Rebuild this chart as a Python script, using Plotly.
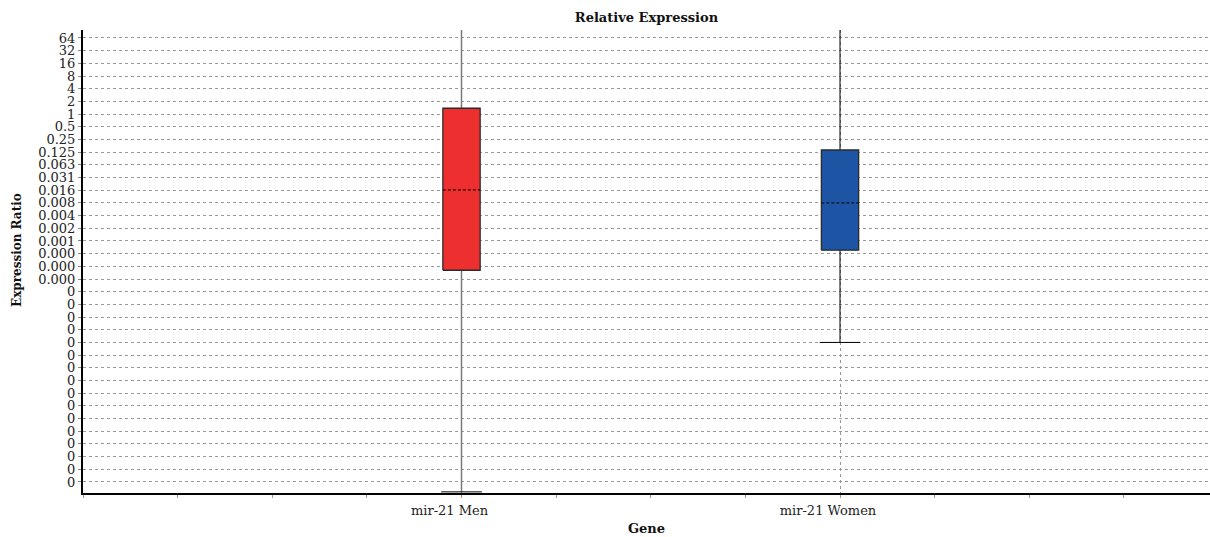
import plotly.graph_objects as go

# ---- data ----
genes = ["mir-21 Men", "mir-21 Women"]
gene_pos = [4, 8]
q1 = [2 ** -12.31, 2 ** -10.73]
median = [2 ** -5.98, 2 ** -7.0]
q3 = [2 ** 0.46, 2 ** -2.83]
lower_whisker = [2 ** -29.78, 2 ** -18.0]
upper_whisker = [2 ** 8, 2 ** 8]
box_colors = ["#EE2F2F", "#1D54A4"]
whisker_colors = ["#7A7A7A", "#000000"]

tick_exponents = list(range(6, -30, -1))
tick_labels = ["64", "32", "16", "8", "4", "2", "1", "0.5", "0.25", "0.125", "0.063",
               "0.031", "0.016", "0.008", "0.004", "0.002", "0.001", "0.000", "0.000",
               "0.000"] + ["0"] * 16

box_half = 0.197
cap_half = 0.215

fig = go.Figure()
font = "DejaVu Serif"

for i, g in enumerate(genes):
    c = gene_pos[i]
    fig.add_trace(go.Scatter(
        x=[c, c], y=[lower_whisker[i], upper_whisker[i]], mode="lines",
        line=dict(color=whisker_colors[i], width=1.5 if i == 0 else 1),
        showlegend=False, hoverinfo="skip"))
    for v in (lower_whisker[i], upper_whisker[i]):
        fig.add_trace(go.Scatter(
            x=[c - cap_half, c + cap_half], y=[v, v], mode="lines",
            line=dict(color="#000000", width=1),
            showlegend=False, hoverinfo="skip"))
    fig.add_trace(go.Scatter(
        x=[c - box_half, c + box_half, c + box_half, c - box_half, c - box_half],
        y=[q1[i], q1[i], q3[i], q3[i], q1[i]], mode="lines", fill="toself",
        fillcolor=box_colors[i], line=dict(color="#2a2a2a", width=1.3),
        name=g, showlegend=False))
    fig.add_trace(go.Scatter(
        x=[c - box_half, c + box_half], y=[median[i], median[i]], mode="lines",
        line=dict(color="#000000", width=1, dash="3px,2px"),
        showlegend=False, hoverinfo="skip"))

fig.update_layout(
    width=1210, height=537,
    margin=dict(l=83, r=0, t=30, b=44, autoexpand=False),
    paper_bgcolor="white", plot_bgcolor="white",
    font=dict(family=font, size=13, color="#222222"),
    title=dict(text="<b>Relative Expression</b>", x=0.5, xref="paper",
               y=1 - 17 / 537, yref="container", xanchor="center", yanchor="middle",
               font=dict(family=font, size=13, color="#111111")),
    annotations=[
        dict(text="<b>Expression Ratio</b>", textangle=-90, xref="paper", yref="paper",
             x=0, y=(493 - 250) / 463, xanchor="center", yanchor="middle",
             xshift=-66, showarrow=False, font=dict(family=font, size=12, color="#111111")),
        dict(text="<b>Gene</b>", xref="paper", yref="paper", x=0.5, y=0,
             xanchor="center", yanchor="middle", yshift=-35, showarrow=False,
             font=dict(family=font, size=13, color="#111111")),
    ],
)

fig.update_xaxes(
    range=[0, 11.91], tickvals=gene_pos, ticktext=genes,
    showgrid=True, gridcolor="#999999", griddash="3px,3px", gridwidth=1,
    ticks="", showline=True, linecolor="#000000", linewidth=2,
    zeroline=False, mirror=False, automargin=False,
    ticklabelshift=-12, ticklabelstandoff=4,
    minor=dict(tick0=0, dtick=1, ticks="outside", ticklen=3, tickcolor="#999999",
               showgrid=False),
    tickfont=dict(family=font, size=13, color="#222222"),
)

fig.update_yaxes(
    type="log", range=[-29.87 * 0.30103, 6.63 * 0.30103],
    tickvals=[2.0 ** e for e in tick_exponents], ticktext=tick_labels,
    showgrid=True, gridcolor="#999999", griddash="3px,3px", gridwidth=1,
    ticks="outside", ticklen=3, tickcolor="#888888", automargin=False,
    showline=True, linecolor="#000000", linewidth=2, zeroline=False,
    tickfont=dict(family=font, size=13, color="#222222"),
)

fig.write_html(
    "out.html",
    config={"displayModeBar": False},
    post_script="document.body.style.margin='0';document.body.style.overflow='hidden';",
)
